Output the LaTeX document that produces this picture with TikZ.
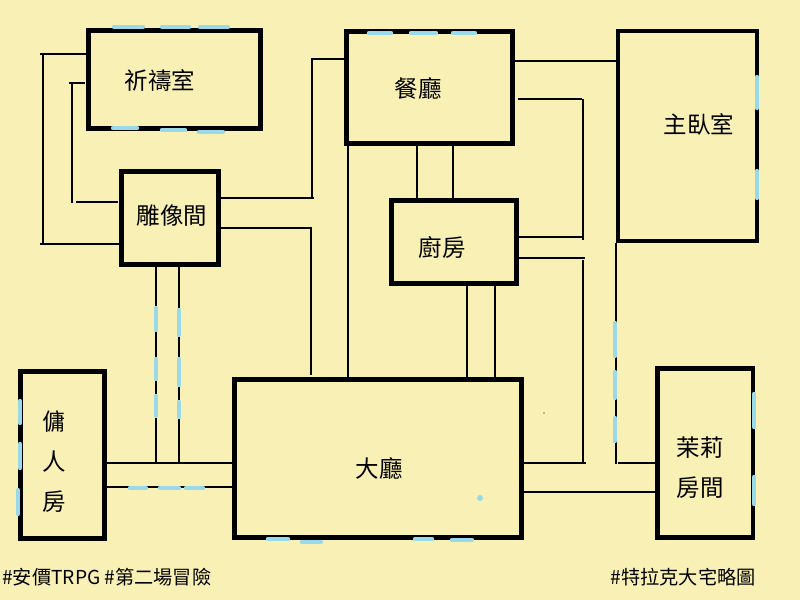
\documentclass[tikz,border=0pt]{standalone}
\usepackage{fontspec}
\setmainfont{Noto Sans CJK TC}
\definecolor{paper}{RGB}{249,240,181}
\definecolor{glass}{RGB}{153,217,234}
\tikzset{
  wall/.style={line width=3.5pt},
  corridor/.style={line width=0.8pt},
  pane/.style={glass,line width=3.3pt,line cap=round},
  roomname/.style={font=\fontsize{17.6}{30}\selectfont,inner sep=0pt,align=center},
  tagline/.style={font=\fontsize{14.4}{14.4}\selectfont,inner sep=0pt}
}

\begin{document}
\begin{tikzpicture}[x=0.75pt,y=-0.75pt]
	\fill[paper] (0,0) rectangle (800,600);
	\useasboundingbox (0,0) rectangle (800,600);
	% corridors
	\draw[corridor] (40,54) -- (86,54);
	\draw[corridor] (43,54) -- (43,244);
	\draw[corridor] (40,244) -- (119,244);
	\draw[corridor] (69,83) -- (85,83);
	\draw[corridor] (72,83) -- (72,203);
	\draw[corridor] (76,202) -- (118,202);
	\draw[corridor] (221,198) -- (314,198);
	\draw[corridor] (312,198) -- (312,59) -- (344,59);
	\draw[corridor] (221,228) -- (312,228);
	\draw[corridor] (311,228) -- (311,375);
	\draw[corridor] (348,146) -- (348,377);
	\draw[corridor] (417,146) -- (417,198);
	\draw[corridor] (453,146) -- (453,198);
	\draw[corridor] (467,286) -- (467,377);
	\draw[corridor] (495,286) -- (495,377);
	\draw[corridor] (515,61) -- (616,61);
	\draw[corridor] (518,99) -- (582,99);
	\draw[corridor] (583,99) -- (583,240);
	\draw[corridor] (518,237) -- (583,237);
	\draw[corridor] (518,258) -- (585,258);
	\draw[corridor] (583,260) -- (583,464);
	\draw[corridor] (524,463) -- (586,463);
	\draw[corridor] (616,243) -- (616,464);
	\draw[corridor] (618,463) -- (657,463);
	\draw[corridor] (524,492) -- (657,492);
	\draw[corridor] (107,463) -- (236,463);
	\draw[corridor] (107,487) -- (232,487);
	\draw[corridor] (156,267) -- (156,463);
	\draw[corridor] (179,267) -- (179,463);
	% rooms
	\draw[wall] (88.5,30.5) rectangle (260.5,128.5);
	\draw[wall] (121.5,171.5) rectangle (218.5,264.5);
	\draw[wall] (346.5,31.5) rectangle (512.5,143.5);
	\draw[wall] (391.5,200.5) rectangle (516.5,283.5);
	\draw[wall] (618,31) rectangle (757,241);
	\draw[wall] (657.5,368.5) rectangle (753,537.5);
	\draw[wall] (234.5,379.5) rectangle (521.5,537.5);
	\draw[wall] (20.5,371.5) rectangle (104.5,538.5);
	\node[roomname] (prayer) at (160,80) {祈禱室};
	\node[roomname] (statue) at (172,216) {雕像間};
	\node[roomname] (dining) at (418,88) {餐廳};
	\node[roomname] (kitchen) at (442,247) {廚房};
	\node[roomname] (master) at (699,124) {主臥室};
	\node[roomname] (jasmine) at (700,468) {茉莉\\房間};
	\node[roomname] (hall) at (379,468) {大廳};
	\node[roomname] (servant) at (54,462) {傭\\人\\房};
	% windows
	\foreach \a/\b in {114/143,162/189,200/228}
		\draw[pane] (\a,27) -- (\b,27);
	\draw[pane] (113,128) -- (137,128);
	\draw[pane] (162,130) -- (185,130);
	\draw[pane] (199,132) -- (223,132);
	\foreach \a/\b in {369/391,411/436,453/475}
		\draw[pane] (\a,33) -- (\b,33);
	\foreach \a/\b in {77/108,171/198}
		\draw[pane] (757,\a) -- (757,\b);
	\foreach \a/\b in {323/356,372/398,418/441}
		\draw[pane] (615,\a) -- (615,\b);
	\foreach \a/\b in {394/427,477/504}
		\draw[pane] (754,\a) -- (754,\b);
	\draw[pane] (268,539) -- (288,539);
	\draw[pane] (302,542) -- (321,542);
	\draw[pane] (415,539) -- (432,539);
	\draw[pane] (452,540) -- (472,540);
	\draw[pane] (20,401) -- (20,423);
	\draw[pane] (20,444) -- (20,468);
	\draw[pane] (18,490) -- (18,514);
	\foreach \a/\b in {130/146,160/179,186/203}
		\draw[pane] (\a,488) -- (\b,488);
	\foreach \a/\b in {308/330,359/379,396/416}
		\draw[pane] (156,\a) -- (156,\b);
	\foreach \a/\b in {310/335,359/385,402/417}
		\draw[pane] (179,\a) -- (179,\b);
	\fill[glass] (480,498) circle (3);
	\fill (544,413) circle (0.7);
	% captions
	\node[tagline,anchor=west] (tagleft) at (2,577) {\#安價TRPG \#第二場冒險};
	\node[tagline,anchor=east] (tagright) at (756,577) {\#特拉克大宅略圖};
\end{tikzpicture}
\end{document}
